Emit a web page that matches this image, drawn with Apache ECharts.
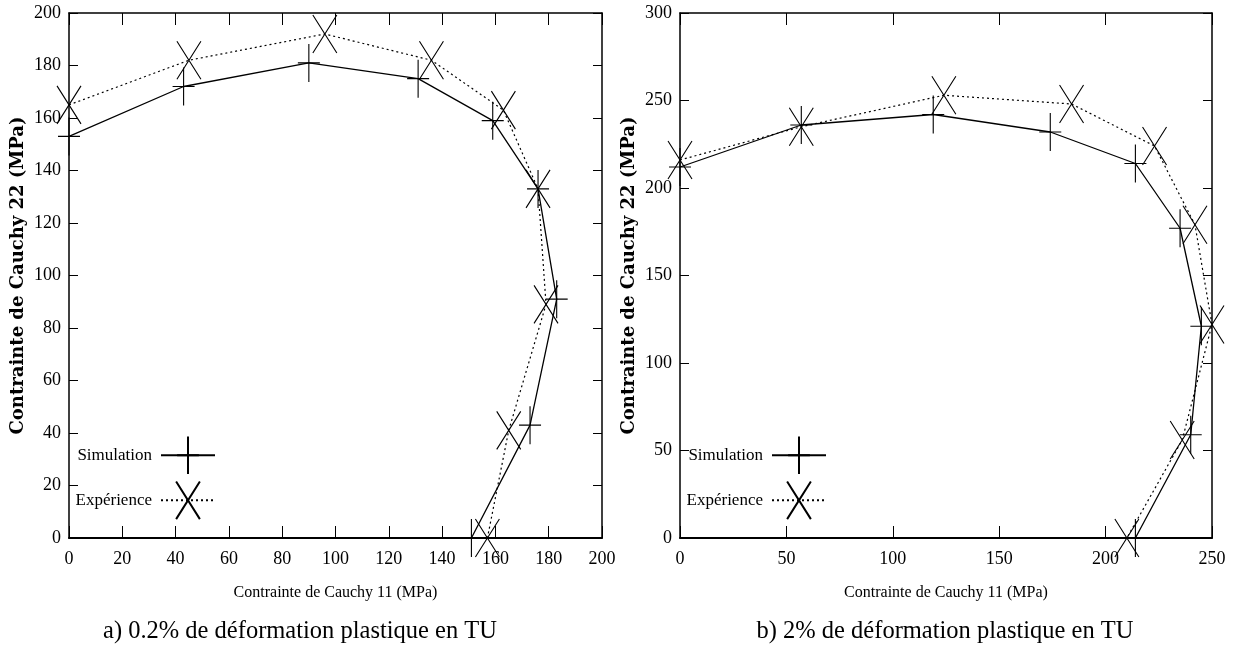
<!DOCTYPE html>
<html><head><meta charset="utf-8">
<script src="https://cdn.jsdelivr.net/npm/echarts@6/dist/echarts.min.js"></script>
<style>html,body{margin:0;padding:0;background:#fff}#c{width:1233px;height:656px}</style>
</head><body><div id="c"></div>
<script>
// ---- Plot a) 0.2% de déformation plastique en TU ----
const simA_x = [0, 43, 90, 131, 159, 176, 183, 173, 151];
const simA_y = [153, 172, 181, 175, 159, 133, 91, 43, 0];
const expA_x = [0, 45, 96, 136, 163, 176, 179, 165, 157];
const expA_y = [165, 182, 192, 182, 163, 133, 89, 41, 0];
const xTicksA = [0, 20, 40, 60, 80, 100, 120, 140, 160, 180, 200];
const yTicksA = [0, 20, 40, 60, 80, 100, 120, 140, 160, 180, 200];
// ---- Plot b) 2% de déformation plastique en TU ----
const simB_x = [0, 57, 119, 174, 214, 235, 245, 240, 214];
const simB_y = [212, 236, 242, 232, 214, 177, 121, 59, 0];
const expB_x = [0, 57, 124, 184, 223, 242, 250, 236, 210];
const expB_y = [216, 235, 253, 248, 224, 179, 122, 56, 0];
const xTicksB = [0, 50, 100, 150, 200, 250];
const yTicksB = [0, 50, 100, 150, 200, 250, 300];

const seriesNames = ['Simulation', 'Expérience'];
const xTitle = 'Contrainte de Cauchy 11 (MPa)';
const yTitle = 'Contrainte de Cauchy 22 (MPa)';
const captions = ['a) 0.2% de déformation plastique en TU', 'b) 2% de déformation plastique en TU'];

const SERIF = '"Liberation Serif", "Times New Roman", serif';
const PLUS = 'path://M0,0M38,38M8,19L30,19M19,0L19,38';
const CROSS = 'path://M0,0M38,38M7,0L31,38M31,0L7,38';

function zip(xs, ys) { return xs.map((x, i) => [x, ys[i]]); }

function xAxis(grid, ticks, pos) {
  const lab = pos === 'bottom';
  return {
    type: 'value', gridIndex: grid, position: pos,
    min: ticks[0], max: ticks[ticks.length - 1], interval: ticks[1] - ticks[0],
    axisLine: { show: true, onZero: false, lineStyle: { color: '#000', width: lab ? 2 : 1.5 } },
    axisTick: { show: true, inside: true, length: 12, lineStyle: { color: '#000', width: 1 } },
    axisLabel: { show: lab, margin: 12, color: '#000', fontFamily: SERIF, fontSize: 18 },
    splitLine: { show: false },
    name: lab ? xTitle : '', nameLocation: 'middle', nameGap: 47,
    nameTextStyle: { color: '#000', fontFamily: SERIF, fontSize: 16 }
  };
}
function yAxis(grid, ticks, pos) {
  const lab = pos === 'left';
  return {
    type: 'value', gridIndex: grid, position: pos,
    min: ticks[0], max: ticks[ticks.length - 1], interval: ticks[1] - ticks[0],
    axisLine: { show: true, onZero: false, lineStyle: { color: '#000', width: 1.5 } },
    axisTick: { show: true, inside: true, length: 9, lineStyle: { color: '#000', width: 1 } },
    axisLabel: { show: lab, margin: 8, color: '#000', fontFamily: SERIF, fontSize: 18 },
    splitLine: { show: false },
    name: lab ? yTitle : '', nameLocation: 'middle', nameGap: 42, nameRotate: 90,
    nameTextStyle: { color: '#000', fontFamily: '"DejaVu Serif", serif', fontWeight: 'bold', fontSize: 18 }
  };
}
function series(name, data, xi, yi, symbol, dashed) {
  return {
    type: 'line', name, data, xAxisIndex: xi, yAxisIndex: yi,
    symbol, symbolSize: 38, showAllSymbol: true, clip: false, animation: false,
    lineStyle: { color: '#000', width: dashed ? 1.2 : 1.3, type: dashed ? [2, 3] : 'solid' },
    itemStyle: { color: 'none', borderColor: '#000', borderWidth: 1.1 },
    emphasis: { disabled: true }
  };
}
function legend(name, rightPx, topPx) {
  return {
    data: [name], orient: 'vertical', right: rightPx, top: topPx, padding: 0,
    itemWidth: 54, itemHeight: 47, selectedMode: false, align: 'right',
    textStyle: { color: '#000', fontFamily: SERIF, fontSize: 17, padding: [0, 4, 0, 0] }
  };
}

const chart = echarts.init(document.getElementById('c'), null, { renderer: 'canvas' });
chart.setOption({
  backgroundColor: '#fff',
  animation: false,
  grid: [
    { left: 69, top: 13, width: 533, height: 525 },
    { left: 680, top: 13, width: 532, height: 525 }
  ],
  xAxis: [xAxis(0, xTicksA, 'bottom'), xAxis(0, xTicksA, 'top'), xAxis(1, xTicksB, 'bottom'), xAxis(1, xTicksB, 'top')],
  yAxis: [yAxis(0, yTicksA, 'left'), yAxis(0, yTicksA, 'right'), yAxis(1, yTicksB, 'left'), yAxis(1, yTicksB, 'right')],
  legend: [
    legend(seriesNames[0], 1017, 434), legend(seriesNames[1], 1017, 479),
    legend(seriesNames[0], 406, 434), legend(seriesNames[1], 406, 479)
  ],
  title: [
    { text: captions[0], left: 300, top: 619, textAlign: 'center', padding: 0,
      textStyle: { color: '#000', fontFamily: SERIF, fontWeight: 'normal', fontSize: 24.5 } },
    { text: captions[1], left: 945, top: 619, textAlign: 'center', padding: 0,
      textStyle: { color: '#000', fontFamily: SERIF, fontWeight: 'normal', fontSize: 24.5 } }
  ],
  series: [
    series(seriesNames[0], zip(simA_x, simA_y), 0, 0, PLUS, false),
    series(seriesNames[1], zip(expA_x, expA_y), 0, 0, CROSS, true),
    series(seriesNames[0], zip(simB_x, simB_y), 2, 2, PLUS, false),
    series(seriesNames[1], zip(expB_x, expB_y), 2, 2, CROSS, true)
  ]
});
</script></body></html>
